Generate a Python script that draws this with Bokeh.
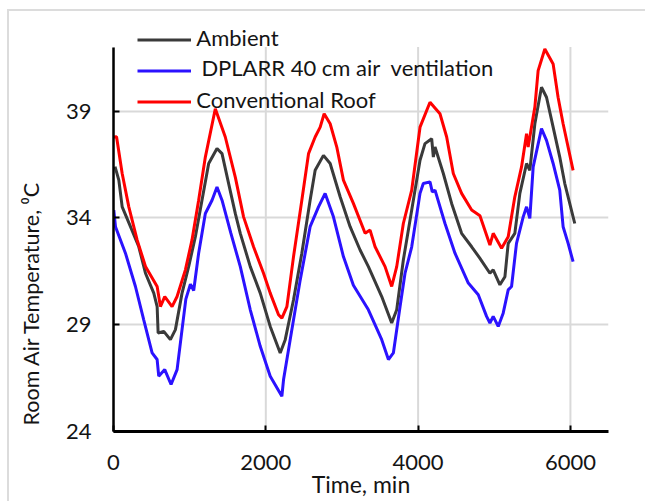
from bokeh.plotting import figure
from bokeh.models import Range1d, FixedTicker, Legend, LegendItem, Label, Title
from bokeh.embed import file_html
from bokeh.resources import INLINE

# ---- data ----
t_amb = [20, 70, 114, 223, 332, 420, 529, 573, 586, 660, 747, 813, 900, 987, 1075, 1162, 1250, 1359, 1425,
         1512, 1600, 1665, 1796, 1927, 2058, 2189, 2255, 2364, 2473, 2582, 2648, 2757, 2845, 2976, 3107,
         3238, 3347, 3522, 3653, 3719, 3806, 3916, 4025, 4090, 4178, 4200, 4222, 4331, 4440, 4571, 4703,
         4812, 4943, 4986, 5074, 5140, 5183, 5270, 5336, 5424, 5467, 5533, 5620, 5686, 5773, 5860, 5926, 6057]
temp_amb = [36.4, 35.77, 34.52, 33.59, 32.65, 31.41, 30.48, 29.85, 28.61, 28.69, 28.3, 28.77, 30.48, 31.72,
            33.12, 34.83, 36.55, 37.25, 37.01, 35.61, 34.2, 33.28, 31.72, 30.48, 28.92, 27.68, 28.3, 30.17,
            32.35, 34.83, 36.23, 36.93, 36.55, 34.99, 33.59, 32.5, 31.72, 30.32, 29.08, 29.7, 32.03, 34.37,
            36.7, 37.48, 37.71, 36.85, 37.32, 36.08, 34.68, 33.28, 32.65, 32.11, 31.41, 31.57, 30.87, 31.25,
            32.81, 33.28, 35.15, 36.55, 36.23, 38.41, 40.12, 39.65, 38.25, 36.85, 35.61, 33.74]

t_dpl = [4, 26, 157, 288, 397, 507, 573, 594, 673, 756, 835, 900, 950, 1010, 1053, 1118, 1206, 1294, 1359,
         1425, 1540, 1665, 1796, 1927, 2058, 2211, 2233, 2320, 2452, 2582, 2692, 2779, 2888, 3019, 3150,
         3347, 3522, 3610, 3675, 3763, 3828, 3916, 4025, 4068, 4156, 4186, 4222, 4353, 4484, 4659, 4790,
         4899, 4943, 4986, 5052, 5117, 5183, 5227, 5292, 5380, 5424, 5467, 5511, 5620, 5686, 5773, 5860,
         5904, 5970, 6035]
temp_dpl = [34.37, 33.59, 32.35, 30.79, 29.23, 27.68, 27.37, 26.59, 26.9, 26.2, 26.9, 28.77, 30.2, 30.9,
            30.6, 32.35, 34.21, 34.83, 35.45, 34.83, 33.3, 31.72, 29.7, 27.99, 26.59, 25.65, 26.43, 28.3,
            31.1, 33.59, 34.52, 35.15, 34.05, 32.19, 30.85, 29.7, 28.3, 27.37, 27.68, 29.85, 31.41, 32.65,
            35.15, 35.61, 35.69, 35.22, 35.3, 33.74, 32.35, 30.95, 30.4, 29.39, 29.08, 29.39, 28.92, 29.54,
            30.63, 30.79, 32.81, 34.05, 34.52, 33.98, 36.39, 38.18, 37.63, 36.55, 35.3, 33.59, 32.81, 31.95]

t_conv = [0, 40, 114, 201, 310, 420, 573, 616, 673, 769, 835, 944, 1031, 1118, 1206, 1337, 1468, 1600,
          1708, 1839, 1970, 2058, 2167, 2211, 2277, 2364, 2473, 2561, 2648, 2714, 2766, 2845, 2932, 3019,
          3150, 3304, 3369, 3435, 3566, 3653, 3719, 3806, 3916, 4025, 4156, 4287, 4375, 4462, 4571, 4703,
          4812, 4943, 4986, 5096, 5183, 5270, 5358, 5424, 5445, 5533, 5576, 5664, 5773, 5838, 5904, 6035]
temp_conv = [37.79, 37.8, 36.08, 34.52, 32.97, 31.73, 30.79, 29.85, 30.32, 29.85, 30.32, 31.57, 32.97,
             34.83, 36.85, 39.11, 37.79, 35.9, 34.05, 32.65, 31.41, 30.48, 29.47, 29.31, 29.85, 32.19,
             34.83, 37.01, 37.79, 38.25, 38.88, 38.41, 37.32, 35.77, 34.68, 33.28, 33.43, 32.65, 31.72,
             30.79, 31.72, 33.74, 35.3, 38.25, 39.42, 38.88, 37.79, 36.08, 35.15, 34.37, 34.1, 32.73,
             33.28, 32.58, 33.12, 34.99, 36.39, 37.94, 37.32, 39.19, 40.9, 41.91, 41.21, 39.65, 38.41, 36.23]

x_ticks = [0, 2000, 4000, 6000]
y_ticks = [24, 29, 34, 39]
x_min, x_max = 0, 6500
y_min, y_max = 24, 42
series_names = ["Ambient", "DPLARR 40 cm air \u00a0ventilation", "Conventional Roof"]
colors = ["#3a3a3a", "#2b12ff", "#ff0000"]
x_title = "Time, min"
y_title = "Room Air Temperature, \u2070C"

FONT = "Lato"
TXT = "#141414"
GRID = "#d9d9d9"

# the frame reaches a little above the top of the value axis, to hold the legend
p = figure(width=645, height=501, output_backend="svg", toolbar_location=None,
           x_range=Range1d(x_min, x_max), y_range=Range1d(y_min, 43.62),
           min_border_left=113, min_border_top=12, min_border_right=37, min_border_bottom=70)
# thin light-grey chart-area border (left and top edges), painted behind a transparent border fill
p.styles = {"background": "linear-gradient(#dcdcdc, #dcdcdc) 7px 9px / 2px 100% no-repeat, "
                          "linear-gradient(#dcdcdc, #dcdcdc) 7px 9px / 100% 2px no-repeat, white"}
p.outline_line_color = None
p.background_fill_color = "white"
p.border_fill_color = None

for ax in (p.xaxis[0], p.yaxis[0]):
    ax.axis_line_color = "black"
    ax.major_tick_line_color = "black"
    ax.major_tick_line_width = 2
    ax.minor_tick_line_color = None
    ax.major_label_text_font = FONT
    ax.major_label_text_font_size = "22px"
    ax.major_label_text_color = TXT
    ax.major_tick_in = 6
    ax.major_tick_out = 0

p.xaxis[0].axis_line_width = 3
p.yaxis[0].axis_line_width = 2.5
p.xaxis[0].major_label_standoff = 23
p.yaxis[0].major_label_standoff = 22
p.xaxis[0].ticker = FixedTicker(ticks=x_ticks)
p.yaxis[0].ticker = FixedTicker(ticks=y_ticks)
p.yaxis[0].bounds = (y_min, y_max)

p.xaxis[0].axis_label = x_title
p.xaxis[0].axis_label_text_font = FONT
p.xaxis[0].axis_label_text_font_size = "23px"
p.xaxis[0].axis_label_text_font_style = "normal"
p.xaxis[0].axis_label_text_color = TXT
p.xaxis[0].axis_label_text_line_height = 1.0
p.xaxis[0].axis_label_standoff = -3

# y title as a side title, starting near the bottom of the axis like the reference
p.add_layout(Title(text=y_title, align="left", offset=6, standoff=33, vertical_align="top",
                   text_font=FONT, text_font_size="21.5px", text_font_style="normal",
                   text_color=TXT), "left")

p.xgrid.visible = False
p.ygrid.ticker = FixedTicker(ticks=y_ticks)
p.ygrid.grid_line_color = GRID
p.ygrid.grid_line_width = 2
# vertical grid lines only up to the top of the value axis
p.segment(x0=x_ticks, x1=x_ticks, y0=[y_min] * len(x_ticks), y1=[y_max] * len(x_ticks),
          line_color=GRID, line_width=2, level="underlay")

r_amb = p.line(t_amb, temp_amb, line_color=colors[0], line_width=3)
r_dpl = p.line(t_dpl, temp_dpl, line_color=colors[1], line_width=3)
r_conv = p.line(t_conv, temp_conv, line_color=colors[2], line_width=3)

# legend swatches (lines) drawn by a Legend; their texts sit just above each swatch
legend = Legend(items=[LegendItem(label=" ", renderers=[r]) for r in (r_amb, r_dpl, r_conv)],
                location=(24, 314), orientation="vertical")
legend.glyph_width = 54
legend.glyph_height = 31
legend.label_height = 10
legend.label_width = 1
legend.spacing = 0
legend.padding = 0
legend.margin = 0
legend.label_standoff = 0
legend.label_text_font_size = "10px"
legend.border_line_color = None
legend.background_fill_alpha = 0
p.add_layout(legend, "center")

legend_text_x = [1088, 1154, 1088]
legend_text_y = [42.45, 41.05, 39.55]
for name, lx, ly in zip(series_names, legend_text_x, legend_text_y):
    p.add_layout(Label(x=lx, y=ly, text=name, text_font=FONT, text_font_size="22px",
                       text_color=TXT, text_baseline="alphabetic", text_align="left"))

open("out.html", "w").write(file_html(p, INLINE))
